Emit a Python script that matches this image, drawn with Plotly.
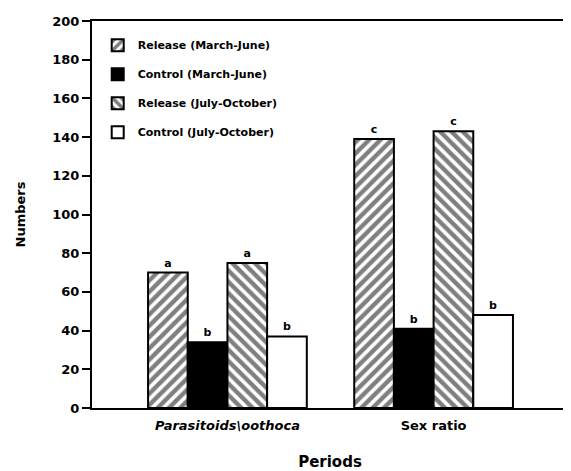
import plotly.graph_objects as go

categories = ["<i>Parasitoids\\oothoca</i>", "Sex ratio"]
series_names = ["Release (March-June)", "Control (March-June)",
                "Release (July-October)", "Control (July-October)"]
release_mar_jun = [70, 139]
control_mar_jun = [34, 41]
release_jul_oct = [75, 143]
control_jul_oct = [37, 48]
letters_release_mar_jun = ["a", "c"]
letters_control_mar_jun = ["b", "b"]
letters_release_jul_oct = ["a", "c"]
letters_control_jul_oct = ["b", "b"]
y_ticks = [0, 20, 40, 60, 80, 100, 120, 140, 160, 180, 200]

FONT = "DejaVu Sans"
BLACK = "#000000"

styles = [
    dict(color="white", pattern=dict(shape="/", fgcolor=BLACK, bgcolor="white", size=8, solidity=0.55)),
    dict(color=BLACK),
    dict(color="white", pattern=dict(shape="\\", fgcolor=BLACK, bgcolor="white", size=8, solidity=0.55)),
    dict(color="white"),
]
values = [release_mar_jun, control_mar_jun, release_jul_oct, control_jul_oct]
letters = [letters_release_mar_jun, letters_control_mar_jun,
           letters_release_jul_oct, letters_control_jul_oct]

fig = go.Figure()
for i, (name, vals, txt, st) in enumerate(zip(series_names, values, letters, styles)):
    marker = dict(st)
    marker["line"] = dict(color=BLACK, width=2)
    fig.add_trace(go.Bar(
        x=categories, y=vals, name=name, marker=marker,
        text=txt, textposition="outside",
        textfont=dict(family=FONT, size=11, color=BLACK, weight="bold"),
        legendgroup=f"g{i}", cliponaxis=False,
    ))

fig.update_layout(
    width=563, height=463,
    margin=dict(l=84, r=1, t=13, b=63),
    paper_bgcolor="white", plot_bgcolor="white",
    barmode="group", bargap=0.23, bargroupgap=0,
    font=dict(family=FONT, color=BLACK, size=12, weight="bold"),
    showlegend=True,
    legend=dict(x=0.012, y=0.975, xanchor="left", yanchor="top",
                bgcolor="rgba(0,0,0,0)", tracegroupgap=10,
                font=dict(family=FONT, size=11, color=BLACK, weight="bold")),
    xaxis=dict(range=[-0.657, 1.652], showline=True, linecolor=BLACK, linewidth=2,
               mirror=True, ticks="outside", ticklen=4, tickcolor="rgba(0,0,0,0)", showgrid=False,
               tickfont=dict(family=FONT, size=13, color=BLACK, weight="bold"),
               title=dict(text="Periods", font=dict(family=FONT, size=15, color=BLACK, weight="bold"),
                          standoff=26)),
    yaxis=dict(range=[0, 200], tickvals=y_ticks, showline=True, linecolor=BLACK, linewidth=2,
               mirror=True, ticks="outside", ticklen=8, tickwidth=2, tickcolor=BLACK,
               showgrid=False, zeroline=False,
               tickfont=dict(family=FONT, size=13, color=BLACK, weight="bold"),
               title=dict(text="Numbers", font=dict(family=FONT, size=13, color=BLACK, weight="bold"),
                          standoff=24)),
)

fig.write_html("out.html")
